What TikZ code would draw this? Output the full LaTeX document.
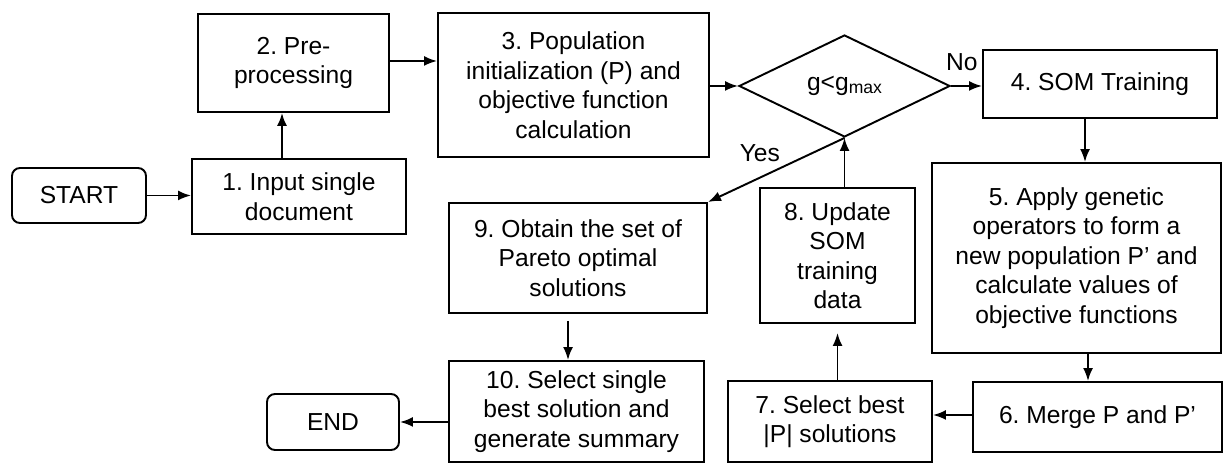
\documentclass[tikz,border=0pt]{standalone}
\usepackage{fontspec}
\setmainfont{Liberation Sans}
\usetikzlibrary{arrows.meta, shapes.geometric}

\begin{document}
\frenchspacing
\begin{tikzpicture}[>={Latex[length=0.26cm,width=0.2cm]}, line width=1.1pt]
    \tikzstyle{block}=[draw,rectangle,align=center,inner sep=2pt,font=\fontsize{14}{16.8}\selectfont]
    \tikzstyle{term}=[block,rounded corners=0.16cm]
    \tikzstyle{lbl}=[font=\fontsize{14}{16.8}\selectfont]
  \useasboundingbox (0,0) rectangle (24.5,-9.28);

  \node (start)  at (1.58,-3.91)  [term, minimum width=2.68cm, minimum height=1.1cm] {START};
  \node (in)     at (5.98,-3.93)  [block, minimum width=4.28cm, minimum height=1.5cm] {1. Input single\\document};
  \node (pre)    at (5.87,-1.26)  [block, minimum width=3.82cm, minimum height=1.96cm] {2. Pre-\\processing};
  \node (popini) at (11.47,-1.70) [block, minimum width=5.42cm, minimum height=2.88cm] {3. Population\\initialization (P) and\\objective function\\calculation};
  \node (cond)   at (16.89,-1.72) [diamond, draw, inner sep=0pt, lbl, minimum width=4.22cm, minimum height=2.04cm] {g<g\raisebox{-0.25ex}{\fontsize{10}{10}\selectfont max}};
  \node (som)    at (22.0,-1.68)  [block, minimum width=4.68cm, minimum height=1.36cm] {4. SOM Training};
  \node (genop)  at (21.53,-5.16) [block, minimum width=5.78cm, minimum height=3.8cm] {5. Apply genetic\\operators to form a\\new population P' and\\calculate values of\\objective functions};
  \node (merge)  at (21.95,-8.34) [block, minimum width=4.98cm, minimum height=1.4cm] {6. Merge P and P'};
  \node (selbst) at (16.6,-8.43)  [block, minimum width=4.08cm, minimum height=1.62cm] {7. Select best\\|P| solutions};
  \node (upd)    at (16.75,-5.11) [block, minimum width=3.1cm, minimum height=2.7cm] {8. Update\\SOM\\training\\data};
  \node (pareto) at (11.56,-5.16) [block, minimum width=5.16cm, minimum height=2.2cm] {9. Obtain the set of\\Pareto optimal\\solutions};
  \node (summ)   at (11.53,-8.23) [block, minimum width=5.1cm, minimum height=2.02cm] {10. Select single\\best solution and\\generate summary};
  \node (end)    at (6.66,-8.44)  [term, minimum width=2.64cm, minimum height=1.12cm] {END};

  \draw[->] (start) -- (start -| in.west);
  \draw[->] ([xshift=-0.34cm]in.north) -- ([xshift=-0.34cm]in.north |- pre.south);
  \draw[->] ([yshift=0.04cm]pre.east) -- ([yshift=0.04cm]pre.east -| popini.west);
  \draw[->] (popini.east |- cond.west) -- (cond.west);
  \draw[->] (cond.east) -- node[lbl, pos=0.35, yshift=0.48cm] {No} (cond.east -| som.west);
  \draw[->] ([xshift=-0.3cm]som.south) -- ([xshift=-0.3cm]som.south |- genop.north);
  \draw[->] ([xshift=0.23cm]genop.south) -- ([xshift=0.23cm]genop.south |- merge.north);
  \draw[->] ([yshift=0.04cm]merge.west) -- ([yshift=0.04cm]merge.west -| selbst.east);
  \draw[->, shorten >=0.18cm] (upd.south |- selbst.north) -- (upd.south);
  \draw[->] (upd.north -| cond.south) -- (cond.south);
  \draw[->] (cond.south) -- node[lbl, pos=0.62, yshift=0.5cm] {Yes} (pareto.north east);
  \draw[->, shorten <=0.14cm] ([xshift=-0.2cm]pareto.south) -- ([xshift=-0.2cm]pareto.south |- summ.north);
  \draw[->] (end.east -| summ.west) -- (end.east);
\end{tikzpicture}
\end{document}
